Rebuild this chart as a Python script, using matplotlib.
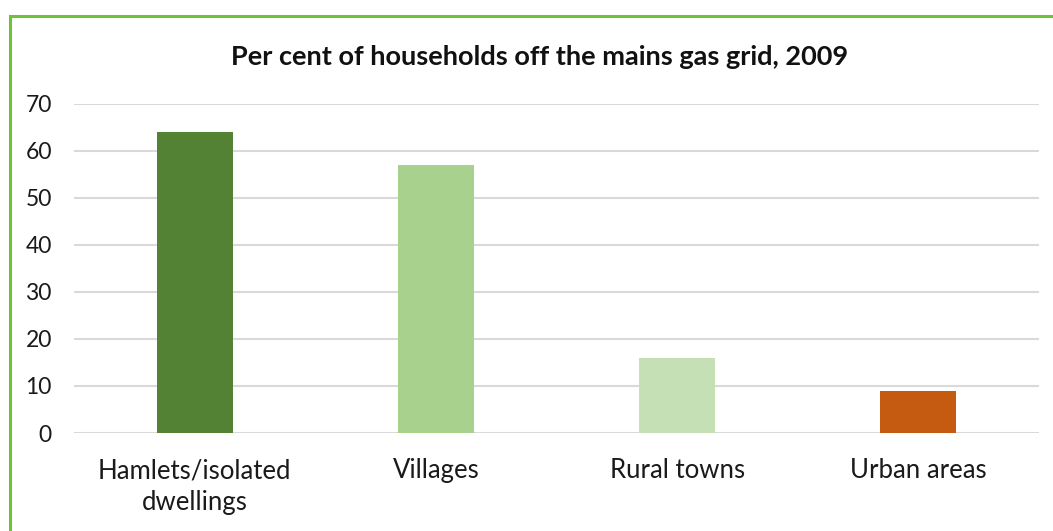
import matplotlib.pyplot as plt
from matplotlib.patches import Rectangle

categories = ["Hamlets/isolated\ndwellings", "Villages", "Rural towns", "Urban areas"]
values = [64, 57, 16, 9]
colors = ["#548235", "#A9D18E", "#C5E0B4", "#C55A11"]
yticks = [0, 10, 20, 30, 40, 50, 60, 70]

plt.rcParams['font.family'] = ['Lato', 'DejaVu Sans']

W, H = 1053, 531
fig = plt.figure(figsize=(W / 100, H / 100), dpi=100)

# green frame (only top and left edges are visible in the crop)
fig.patches.append(Rectangle((9.5 / W, -0.1), 1.2, 1 - 15.5 / H + 0.1,
                             transform=fig.transFigure, fill=False,
                             edgecolor="#6DC236", linewidth=2.2))

ax = fig.add_axes([74 / W, 1 - 433 / H, (1039 - 74) / W, (433 - 104) / H])
x = range(len(categories))
ax.bar(x, values, width=0.315, color=colors, zorder=3)
ax.set_xlim(-0.5, len(categories) - 0.5)
ax.set_ylim(0, 70)
ax.set_yticks(yticks)
ax.set_xticks(list(x))
ax.set_xticklabels(categories, fontsize=18.5, color="#1a1a1a", linespacing=1.35)
ax.tick_params(axis='y', labelsize=16.5, colors="#1a1a1a", length=0, pad=16)
ax.tick_params(axis='x', length=0, pad=18)
ax.grid(axis='y', color="#D9D9D9", linewidth=1.5, zorder=0)
for s in ax.spines.values():
    s.set_visible(False)

fig.text(540 / W, 1 - 57 / H, "Per cent of households off the mains gas grid, 2009",
         ha='center', va='center', fontsize=19.5, fontweight='bold', color="#111111")

fig.savefig("out.png", dpi=100)
